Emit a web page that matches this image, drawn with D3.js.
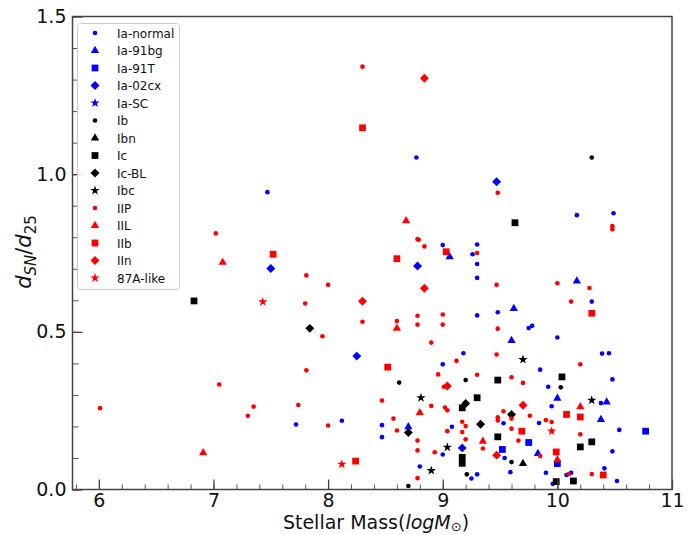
<!DOCTYPE html>
<html>
<head>
<meta charset="utf-8">
<script src="https://cdn.jsdelivr.net/npm/d3@7"></script>
<style>
  body { margin: 0; background: #fff; }
  svg { display: block; font-family: "DejaVu Sans", sans-serif; }
</style>
</head>
<body>
<div id="chart"></div>
<script>
// Stellar mass (log M) vs normalised offset, one array per SN class
const iaNormal = [
  [8.77, 1.053], [7.47, 0.943], [10.17, 0.870], [10.49, 0.876], [9.00, 0.775], [9.30, 0.777],
  [9.26, 0.746], [9.30, 0.715], [9.30, 0.671], [7.72, 0.206], [8.12, 0.218], [9.30, 0.552],
  [9.48, 0.562], [9.75, 0.512], [9.78, 0.519], [10.30, 0.596], [9.00, 0.397], [8.47, 0.204],
  [8.47, 0.166], [9.00, 0.111], [8.80, 0.073], [10.00, 0.482], [9.18, 0.432], [9.85, 0.380],
  [9.92, 0.326], [9.95, 0.264], [9.08, 0.199], [9.53, 0.210], [9.84, 0.211], [9.54, 0.100],
  [9.59, 0.055], [9.90, 0.053], [9.25, 0.035], [9.30, 0.048], [9.96, 0.018], [10.39, 0.431],
  [10.45, 0.432], [10.48, 0.349], [10.38, 0.274], [10.54, 0.189], [10.48, 0.121], [10.41, 0.067],
  [10.08, 0.046], [10.12, 0.053], [10.52, 0.027]
];
const ia91bg = [
  [9.06, 0.738], [10.17, 0.661], [9.62, 0.574], [9.60, 0.472], [10.00, 0.289], [8.70, 0.199],
  [9.83, 0.114], [10.43, 0.277], [10.38, 0.222]
];
const ia91T = [[9.75, 0.149], [9.52, 0.127], [10.00, 0.082], [10.77, 0.185]];
const ia02cx = [[9.47, 0.976], [7.50, 0.701], [8.78, 0.709], [8.25, 0.423], [9.17, 0.132]];
const iaSC = [];
const ib = [
  [10.30, 1.053], [8.62, 0.339], [9.20, 0.347], [10.03, 0.324], [9.60, 0.087], [9.21, 0.048],
  [8.70, 0.011]
];
const ibn = [[9.70, 0.082]];
const ic = [
  [9.63, 0.846], [6.83, 0.598], [9.48, 0.347], [10.04, 0.357], [9.30, 0.291], [9.17, 0.259],
  [9.48, 0.167], [9.17, 0.102], [9.17, 0.083], [9.99, 0.025], [10.30, 0.151], [10.20, 0.135],
  [10.14, 0.027]
];
const icBL = [[7.84, 0.511], [8.70, 0.181], [9.20, 0.273], [9.60, 0.238], [9.33, 0.207]];
const ibc = [[8.81, 0.291], [8.90, 0.060], [9.04, 0.134], [9.70, 0.412], [10.30, 0.283]];
const iiP = [
  [8.30, 1.341], [9.48, 0.941], [10.48, 0.835], [10.48, 0.825], [8.78, 0.794], [8.79, 0.792],
  [8.84, 0.771], [9.30, 0.750], [7.81, 0.679], [8.00, 0.649], [9.47, 0.649], [10.00, 0.654],
  [10.28, 0.639], [7.02, 0.812], [7.80, 0.590], [8.30, 0.532], [7.95, 0.486], [7.81, 0.378],
  [7.05, 0.333], [6.01, 0.258], [7.35, 0.263], [7.30, 0.234], [7.74, 0.268], [8.00, 0.203],
  [8.60, 0.534], [8.78, 0.551], [8.78, 0.523], [9.00, 0.555], [9.00, 0.523], [9.48, 0.510],
  [10.12, 0.596], [8.90, 0.466], [8.96, 0.365], [9.01, 0.326], [8.47, 0.282], [8.90, 0.265],
  [9.02, 0.260], [9.04, 0.251], [8.57, 0.225], [8.60, 0.187], [8.78, 0.155], [8.78, 0.124],
  [8.93, 0.118], [8.78, 0.036], [9.12, 0.408], [9.47, 0.428], [9.30, 0.364], [9.60, 0.356],
  [9.70, 0.338], [9.53, 0.248], [9.48, 0.229], [9.48, 0.219], [9.60, 0.225], [9.76, 0.234],
  [9.17, 0.215], [9.20, 0.201], [9.04, 0.185], [9.17, 0.182], [9.60, 0.193], [9.90, 0.220],
  [9.95, 0.214], [9.20, 0.159], [9.66, 0.155], [9.35, 0.130], [9.85, 0.106], [10.20, 0.397],
  [10.20, 0.175], [10.10, 0.049], [10.30, 0.049]
];
const iiL = [
  [8.68, 0.852], [7.08, 0.720], [8.60, 0.511], [6.91, 0.116], [8.80, 0.243], [9.35, 0.153],
  [10.00, 0.094], [10.20, 0.262]
];
const iib = [
  [8.30, 1.147], [7.52, 0.746], [8.60, 0.732], [9.03, 0.754], [8.24, 0.090], [8.52, 0.388],
  [10.30, 0.559], [10.08, 0.238], [9.69, 0.185], [9.99, 0.119], [10.20, 0.230], [10.40, 0.046]
];
const iin = [[8.84, 1.304], [8.84, 0.638], [8.30, 0.597], [9.04, 0.328], [9.70, 0.267], [9.47, 0.109]];
const sn87A = [[7.43, 0.595], [8.12, 0.080], [9.95, 0.185]];

const xTicks = [6, 7, 8, 9, 10, 11];
const yTicks = [0, 0.5, 1.0, 1.5];

(function () {
  const W = 698, H = 535;
  const left = 72.5, right = 672, top = 16.5, bottom = 489.5;

  const series = [
    { name: "Ia-normal", pts: iaNormal, shape: "dot", color: "#0000ff" },
    { name: "Ia-91bg", pts: ia91bg, shape: "tri", color: "#0000ff" },
    { name: "Ia-91T", pts: ia91T, shape: "sq", color: "#0000ff" },
    { name: "Ia-02cx", pts: ia02cx, shape: "dia", color: "#0000ff" },
    { name: "Ia-SC", pts: iaSC, shape: "star", color: "#0000ff" },
    { name: "Ib", pts: ib, shape: "dot", color: "#000000" },
    { name: "Ibn", pts: ibn, shape: "tri", color: "#000000" },
    { name: "Ic", pts: ic, shape: "sq", color: "#000000" },
    { name: "Ic-BL", pts: icBL, shape: "dia", color: "#000000" },
    { name: "Ibc", pts: ibc, shape: "star", color: "#000000" },
    { name: "IIP", pts: iiP, shape: "dot", color: "#ff0000" },
    { name: "IIL", pts: iiL, shape: "tri", color: "#ff0000" },
    { name: "IIb", pts: iib, shape: "sq", color: "#ff0000" },
    { name: "IIn", pts: iin, shape: "dia", color: "#ff0000" },
    { name: "87A-like", pts: sn87A, shape: "star", color: "#ff0000" },
  ];

  // marker paths, roughly matplotlib '.', '^', 's', 'D', '*'
  const shapes = {
    dot: { path: d3.symbol(d3.symbolCircle, 17)(), rot: 0 },
    tri: { path: d3.symbol(d3.symbolTriangle, 30)(), rot: 0 },
    sq: { path: d3.symbol(d3.symbolSquare, 46)(), rot: 0 },
    dia: { path: d3.symbol(d3.symbolSquare, 40)(), rot: 45 },
    star: { path: d3.symbol(d3.symbolStar, 28)(), rot: 0 },
  };

  const x = d3.scaleLinear().domain([5.77, 11]).range([left, right]);
  const y = d3.scaleLinear().domain([0, 1.5]).range([bottom, top]);

  const svg = d3.select("#chart").append("svg").attr("width", W).attr("height", H);

  // points
  series.forEach((s) => {
    svg
      .append("g")
      .selectAll("path")
      .data(s.pts)
      .join("path")
      .attr("d", shapes[s.shape].path)
      .attr("transform", (d) => `translate(${x(d[0])},${y(d[1])}) rotate(${shapes[s.shape].rot})`)
      .attr("fill", s.color);
  });

  // axes, ticks pointing inward
  const xMinor = d3.range(5.8, 11.001, 0.2).map((v) => +v.toFixed(1));
  const yMinor = d3.range(0, 1.501, 0.1).map((v) => +v.toFixed(1));

  svg
    .append("g")
    .attr("transform", `translate(0,${bottom})`)
    .call(d3.axisBottom(x).tickValues(xMinor).tickSizeInner(-5).tickSizeOuter(0).tickFormat(""))
    .call((g) => g.select(".domain").remove())
    .call((g) => g.selectAll("line").attr("stroke", "#555"));
  svg
    .append("g")
    .attr("transform", `translate(${left},0)`)
    .call(d3.axisLeft(y).tickValues(yMinor).tickSizeInner(-6).tickSizeOuter(0).tickFormat(""))
    .call((g) => g.select(".domain").remove())
    .call((g) => g.selectAll("line").attr("stroke", "#555"));

  svg
    .append("g")
    .attr("transform", `translate(0,${bottom})`)
    .call(d3.axisBottom(x).tickValues(xTicks).tickFormat(d3.format("d")).tickSizeInner(-10).tickSizeOuter(0).tickPadding(4))
    .call((g) => g.select(".domain").remove())
    .call((g) => g.selectAll("line").attr("stroke", "#444").attr("stroke-width", 1.3))
    .call((g) => g.selectAll("text").attr("font-size", "19px").attr("fill", "#111").attr("font-family", "DejaVu Sans"));
  svg
    .append("g")
    .attr("transform", `translate(${left},0)`)
    .call(d3.axisLeft(y).tickValues(yTicks).tickFormat(d3.format(".1f")).tickSizeInner(-10).tickSizeOuter(0).tickPadding(6))
    .call((g) => g.select(".domain").remove())
    .call((g) => g.selectAll("line").attr("stroke", "#444").attr("stroke-width", 1.3))
    .call((g) => g.selectAll("text").attr("font-size", "19px").attr("fill", "#111").attr("font-family", "DejaVu Sans"));

  svg
    .append("rect")
    .attr("x", left)
    .attr("y", top)
    .attr("width", right - left)
    .attr("height", bottom - top)
    .attr("fill", "none")
    .attr("stroke", "#444")
    .attr("stroke-width", 1.5);

  // axis labels
  const xl = svg
    .append("text")
    .attr("x", 376)
    .attr("y", 529)
    .attr("text-anchor", "middle")
    .attr("font-size", "19px")
    .attr("fill", "#111");
  xl.append("tspan").text("Stellar Mass(");
  xl.append("tspan").attr("font-style", "italic").text("logM");
  xl.append("tspan").attr("font-size", "13px").attr("dy", 2).text("\u2299");
  xl.append("tspan").attr("dy", -2).text(")");

  const yl = svg
    .append("text")
    .attr("transform", "translate(31,252) rotate(-90)")
    .attr("text-anchor", "middle")
    .attr("font-size", "21px")
    .attr("fill", "#111");
  yl.append("tspan").attr("font-style", "italic").text("d");
  yl.append("tspan").attr("font-style", "italic").attr("font-size", "15px").attr("dy", 5).text("SN");
  yl.append("tspan").attr("dy", -5).text("/");
  yl.append("tspan").attr("font-style", "italic").text("d");
  yl.append("tspan").attr("font-size", "15px").attr("dy", 5).text("25");

  // legend
  const lg = svg.append("g");
  lg.append("rect")
    .attr("x", 77.5)
    .attr("y", 23.5)
    .attr("width", 102)
    .attr("height", 266)
    .attr("rx", 3)
    .attr("fill", "#fff")
    .attr("fill-opacity", 0.85)
    .attr("stroke", "#ccc");
  const rows = lg
    .selectAll("g.row")
    .data(series)
    .join("g")
    .attr("class", "row")
    .attr("transform", (d, i) => `translate(0,${33 + i * 17.5})`);
  rows
    .append("path")
    .attr("d", (d) => shapes[d.shape].path)
    .attr("transform", (d) => `translate(95,0) rotate(${shapes[d.shape].rot})`)
    .attr("fill", (d) => d.color);
  rows
    .append("text")
    .attr("x", 117)
    .attr("y", 4.5)
    .attr("font-size", "12px")
    .attr("fill", "#111")
    .text((d) => d.name);
})();
</script>
</body>
</html>
